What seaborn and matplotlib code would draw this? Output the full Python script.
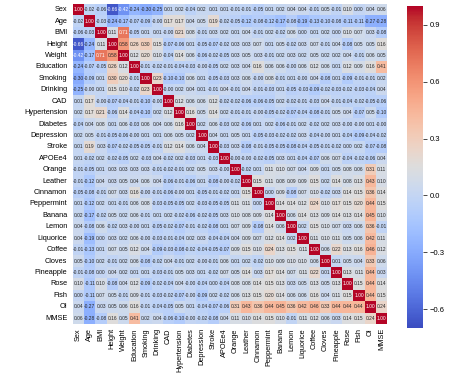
import numpy as np
import pandas as pd
import seaborn as sns
from matplotlib import pyplot as plt

labels = ['Sex', 'Age', 'BMI', 'Height', 'Weight', 'Education', 'Smoking', 'Drinking', 'CAD',
          'Hypertension', 'Diabetes', 'Depression', 'Stroke', 'APOEe4', 'Orange', 'Leather',
          'Cinnamon', 'Peppermint', 'Banana', 'Lemon', 'Liquorice', 'Coffee', 'Cloves',
          'Pineapple', 'Rose', 'Fish', 'OI', 'MMSE']

# lower triangle of the correlation matrix, row by row (diagonal = 1)
lower = [
    [],
    [-0.02],
    [-0.06, -0.03],
    [-0.66, -0.24, 0.11],
    [-0.42, -0.17, 0.71, 0.58],
    [-0.24, -0.07, -0.05, 0.26, 0.12],
    [-0.30, -0.09, 0.01, 0.30, 0.20, -0.01],
    [-0.25, -0.00, 0.01, 0.15, 0.10, -0.02, 0.23],
    [0.01, 0.17, -0.00, -0.07, -0.04, -0.01, -0.10, -0.00],
    [0.02, 0.17, 0.21, -0.06, 0.14, -0.04, -0.10, 0.02, 0.12],
    [-0.04, 0.04, 0.08, 0.01, 0.06, -0.03, 0.06, 0.04, 0.06, 0.16],
    [0.02, 0.05, -0.01, -0.05, -0.06, -0.00, 0.01, 0.01, 0.06, 0.05, 0.02],
    [0.01, 0.19, 0.03, -0.07, -0.02, -0.05, -0.05, -0.01, 0.12, 0.14, 0.06, 0.04],
    [0.01, -0.02, 0.02, -0.02, -0.05, 0.02, -0.03, 0.04, -0.02, 0.02, -0.03, 0.01, -0.03],
    [-0.01, -0.05, 0.01, 0.03, 0.03, 0.03, 0.03, -0.01, -0.02, -0.01, 0.02, 0.05, 0.03, -0.00],
    [-0.01, -0.12, 0.04, 0.03, 0.05, 0.04, 0.06, 0.04, -0.06, -0.01, -0.06, 0.01, -0.08, -0.00,
     -0.02],
    [-0.05, -0.08, -0.01, 0.07, 0.03, 0.16, -0.00, -0.01, -0.06, -0.00, 0.01, -0.05, -0.01,
     -0.02, 0.01, 0.15],
    [0.01, -0.12, 0.02, 0.01, -0.01, 0.06, 0.08, -0.03, -0.05, -0.05, 0.02, -0.03, -0.05, -0.05,
     0.11, 0.11, 0.00],
    [0.02, -0.17, -0.02, 0.05, 0.02, 0.06, -0.01, 0.01, 0.02, -0.02, -0.06, -0.02, -0.05, 0.03,
     0.10, 0.08, 0.09, 0.14],
    [0.04, -0.08, 0.06, -0.02, 0.03, -0.00, 0.01, -0.05, -0.02, -0.07, -0.01, -0.02, -0.08, 0.01,
     0.07, 0.09, -0.08, 0.14, 0.06],
    [0.04, -0.19, 0.00, 0.03, 0.02, 0.06, -0.00, -0.03, -0.01, -0.04, 0.02, 0.03, -0.04, -0.04,
     0.04, 0.09, 0.07, 0.12, 0.14, 0.02],
    [-0.01, -0.13, 0.01, 0.07, 0.05, 0.12, 0.04, -0.09, -0.03, -0.08, -0.02, -0.04, -0.05, -0.07,
     0.09, 0.15, 0.10, 0.24, 0.13, 0.15, 0.11],
    [0.05, -0.10, 0.02, -0.01, 0.02, 0.06, -0.08, -0.02, 0.04, -0.01, 0.02, -0.00, -0.01, 0.06,
     0.01, 0.02, -0.02, 0.10, 0.09, 0.10, 0.10, 0.06],
    [-0.01, -0.08, 0.00, 0.04, 0.02, 0.01, 0.01, -0.03, -0.01, 0.05, 0.03, 0.01, -0.02, 0.07,
     0.05, 0.14, 0.03, 0.17, 0.14, 0.07, 0.11, 0.22, 0.01],
    [0.10, -0.11, 0.10, -0.08, 0.04, 0.12, -0.09, -0.02, -0.04, 0.04, -0.00, -0.04, 0.00, -0.04,
     0.08, 0.08, 0.14, 0.15, 0.13, 0.03, 0.05, 0.13, 0.05, 0.13],
    [0.00, -0.11, 0.07, 0.05, -0.01, 0.09, -0.01, -0.03, -0.02, -0.07, -0.00, -0.09, 0.02, -0.02,
     0.06, 0.13, 0.15, 0.20, 0.14, 0.06, 0.06, 0.16, 0.04, 0.11, 0.15],
    [0.04, -0.27, 0.03, 0.05, 0.06, 0.16, -0.01, -0.04, -0.05, 0.05, 0.01, -0.04, -0.07, -0.06,
     0.31, 0.43, 0.36, 0.44, 0.45, 0.36, 0.42, 0.46, 0.33, 0.44, 0.44, 0.44],
    [0.06, -0.28, -0.08, 0.16, 0.05, 0.41, 0.02, 0.04, -0.06, -0.10, -0.00, -0.02, -0.08, 0.04,
     0.11, 0.10, 0.14, 0.15, 0.10, -0.01, 0.11, 0.12, 0.06, 0.03, 0.14, 0.15, 0.24],
]

n = len(labels)
corr = np.eye(n)
for i, row in enumerate(lower):
    for j, v in enumerate(row):
        corr[i, j] = v
        corr[j, i] = v
df = pd.DataFrame(corr, index=labels, columns=labels)

plt.rcParams['font.family'] = ['Liberation Sans', 'DejaVu Sans']

W, H = 474, 380
fig = plt.figure(figsize=(W / 100, H / 100), dpi=100)
ax = fig.add_axes([73 / W, (H - 324) / H, 314 / W, 320 / H])
cax = fig.add_axes([407 / W, (H - 328) / H, 16 / W, 322 / H])

sns.heatmap(df, ax=ax, cbar_ax=cax, cmap='coolwarm', vmin=-0.7, vmax=1.0,
            annot=True, fmt='.2f', annot_kws={'fontsize': 3.5},
            xticklabels=labels, yticklabels=labels)

ax.tick_params(axis='x', length=0, pad=3, labelsize=5.3)
ax.tick_params(axis='y', length=0, pad=4, labelsize=5.3)
plt.setp(ax.get_xticklabels(), rotation=90)
plt.setp(ax.get_yticklabels(), rotation=0)

cbar = ax.collections[0].colorbar
cbar.set_ticks([-0.6, -0.3, 0.0, 0.3, 0.6, 0.9])
cbar.outline.set_visible(False)
cax.tick_params(labelsize=5.5, length=3, width=0.5, pad=2)

fig.savefig('out.png', dpi=100)
